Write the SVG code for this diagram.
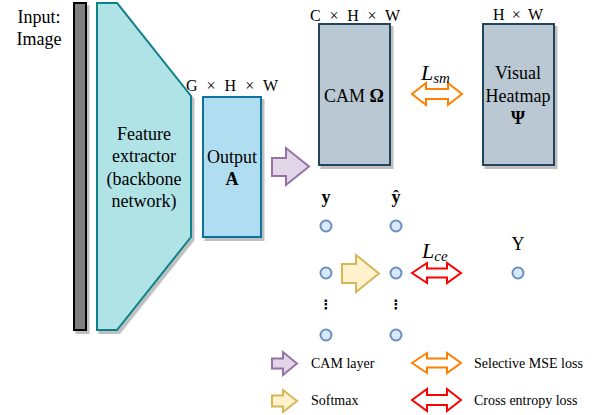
<svg xmlns="http://www.w3.org/2000/svg" width="608" height="415" viewBox="0 0 608 415" font-family="'Liberation Serif', 'Times New Roman', serif">
<defs>
<filter id="sh" x="-20%" y="-20%" width="150%" height="150%"><feDropShadow dx="2.5" dy="3" stdDeviation="0.6" flood-color="#000" flood-opacity="0.25"/></filter>
</defs>
<style>
text{fill:#000}
.t18{font-size:18px}
.t16{font-size:16px}
.t14{font-size:14px}
.c{text-anchor:middle}
.b{font-weight:bold}
.dot{fill:#dae8fc;stroke:#6c8ebf;stroke-width:2}
.pur{fill:#e1d5e7;stroke:#9673a6;stroke-width:2}
.yel{fill:#fff2cc;stroke:#d6b656;stroke-width:2}
.ora{fill:#fff;stroke:#ff8000;stroke-width:2}
.red{fill:#fff;stroke:#ff0000;stroke-width:2}
</style>
<rect width="608" height="415" fill="#fff"/>

<g id="input">
<rect x="74" y="3" width="12" height="327" fill="#808080" stroke="#000" stroke-width="2" filter="url(#sh)"/>
<text class="t18" x="39" y="23" text-anchor="middle">Input:</text>
<text class="t18" x="39" y="45" text-anchor="middle">Image</text>
</g>

<g id="feature-extractor">
<polygon points="97,3 117,3 191,96 191,237 117,330 97,330" fill="#b0e3e6" stroke="#0e8088" stroke-width="2" filter="url(#sh)"/>
<text class="t18 c" x="144" y="140">Feature</text>
<text class="t18 c" x="144" y="162">extractor</text>
<text class="t18 c" x="144" y="185">(backbone</text>
<text class="t18 c" x="144" y="207">network)</text>
</g>

<g id="output-a">
<rect x="203" y="97" width="58" height="140" fill="#b1ddf0" stroke="#10739e" stroke-width="2" filter="url(#sh)"/>
<text class="t16" x="186" y="91" textLength="92" lengthAdjust="spacing">G × H × W</text>
<text class="t18 c" x="232" y="163">Output</text>
<text class="t18 c b" x="232" y="185">A</text>
</g>

<g id="cam">
<rect x="319" y="24" width="71" height="141" fill="#bac8d3" stroke="#23445d" stroke-width="2" filter="url(#sh)"/>
<text class="t16" x="310" y="21" textLength="90" lengthAdjust="spacing">C × H × W</text>
<text class="t18 c" x="354" y="102">CAM <tspan class="b">Ω</tspan></text>
</g>

<g id="heatmap">
<rect x="483" y="24" width="71" height="141" fill="#bac8d3" stroke="#23445d" stroke-width="2" filter="url(#sh)"/>
<text class="t16" x="493" y="20" textLength="50" lengthAdjust="spacing">H × W</text>
<text class="t18 c" x="518" y="79">Visual</text>
<text class="t18 c" x="518" y="102">Heatmap</text>
<text class="t18 c b" x="518" y="124">Ψ</text>
</g>

<g id="outputs">
<text class="t18 c b" x="326" y="203">y</text>
<text class="t18 c b" x="396" y="203">ŷ</text>
<text class="t18 c" x="518" y="250">Y</text>
<circle class="dot" cx="326" cy="226" r="5.5"/>
<circle class="dot" cx="326" cy="273" r="5.5"/>
<circle class="dot" cx="326" cy="335" r="5.5"/>
<circle class="dot" cx="396" cy="226" r="5.5"/>
<circle class="dot" cx="396" cy="273" r="5.5"/>
<circle class="dot" cx="396" cy="335" r="5.5"/>
<circle class="dot" cx="518" cy="273" r="5.5"/>
<text x="326" y="309" text-anchor="middle" font-family="'DejaVu Sans', sans-serif" font-size="13" font-weight="bold">⋮</text>
<text x="396" y="309" text-anchor="middle" font-family="'DejaVu Sans', sans-serif" font-size="13" font-weight="bold">⋮</text>
</g>

<g id="connectors">
<polygon class="pur" points="272,158 286,158 286,148 309,166.5 286,185 286,176 272,176"/>
<polygon class="yel" points="342,264 356,264 356,255 379,273.5 356,292 356,283 342,283"/>
<polygon class="ora" points="412,94 426,83 426,89 448,89 448,83 462,94 448,105 448,99 426,99 426,105"/>
<polygon class="red" points="412,273 427,263 427,268.5 447,268.5 447,263 461,273 447,283 447,277.5 427,277.5 427,283"/>
<text x="421" y="80" font-size="22" font-style="italic">L<tspan dy="3" font-size="15">sm</tspan></text>
<text x="422" y="258" font-size="22" font-style="italic">L<tspan dy="3" font-size="15">ce</tspan></text>
</g>

<g id="legend">
<polygon class="pur" points="272,358.5 283,358.5 283,352 297,363.5 283,375 283,368.5 272,368.5"/>
<text class="t14" x="311" y="368">CAM layer</text>
<polygon class="yel" points="272,395.5 283,395.5 283,390 297,401 283,412 283,406.5 272,406.5"/>
<text class="t14" x="311" y="405">Softmax</text>
<polygon class="ora" points="412,363 427,353 427,358.5 447,358.5 447,353 461,363 447,373 447,367.5 427,367.5 427,373"/>
<text class="t14" x="474" y="368">Selective MSE loss</text>
<polygon class="red" points="412,400 427,389 427,395 447,395 447,389 461,400 447,411 447,405 427,405 427,411"/>
<text class="t14" x="474" y="405">Cross entropy loss</text>
</g>
</svg>
